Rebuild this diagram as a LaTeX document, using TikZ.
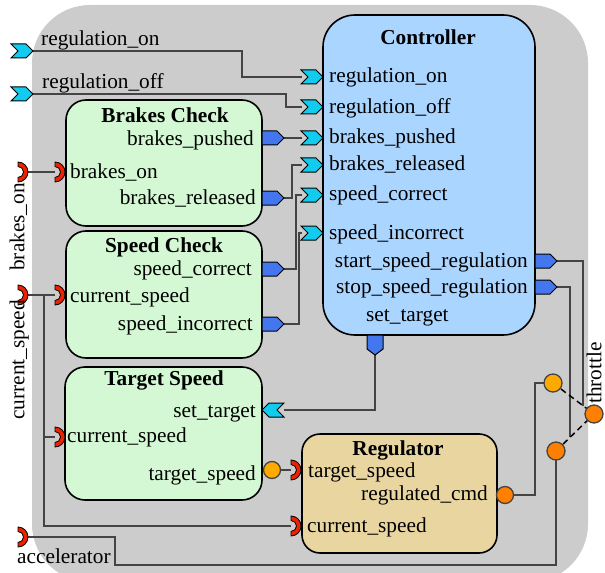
\documentclass[tikz,border=0pt]{standalone}
\usepackage{fontspec}
\setmainfont{Liberation Serif}
\usetikzlibrary{calc}
\definecolor{bgc}{HTML}{CCCCCC}
\definecolor{ctrlc}{HTML}{AAD5FF}
\definecolor{grnc}{HTML}{D4F8D4}
\definecolor{tanc}{HTML}{E8D5A0}
\definecolor{cyc}{HTML}{11CCEE}
\definecolor{bluc}{HTML}{4477EE}
\definecolor{redc}{HTML}{EE2200}
\definecolor{orl}{HTML}{FFAA00}
\definecolor{ord}{HTML}{FF7F00}
\definecolor{wirec}{HTML}{444444}
\newcommand\fsz{\fontsize{21.3bp}{25bp}\selectfont}
\tikzset{
 wire/.style={draw=wirec, line width=1.5bp},
 dashwire/.style={draw=black, line width=1.5bp, dash pattern=on 6bp off 4bp},
 block/.style={draw=black, line width=1.6bp, inner sep=0},
 rlbl/.style={font=\fsz, inner sep=0},
 lbl/.style={font=\fsz, inner sep=0, yshift=-3bp},
 ttl/.style={font=\fsz\bfseries, inner sep=0, anchor=mid, yshift=-3bp},
 cyport/.style={fill=cyc, draw=black, line width=1bp},
 blport/.style={fill=bluc, draw=black, line width=1bp},
 rdport/.style={fill=redc, draw=black, line width=0.8bp},
 orport/.style={draw=wirec, line width=1.3bp},
}
\newcommand\chevR[2]{\filldraw[cyport] ({#1-22},{#2-7}) -- ({#1-7},{#2-7}) -- (#1,#2) -- ({#1-7},{#2+7}) -- ({#1-22},{#2+7}) -- ({#1-15},#2) -- cycle;}
\newcommand\chevL[2]{\filldraw[cyport] ({#1+22},{#2-7}) -- ({#1+7},{#2-7}) -- (#1,#2) -- ({#1+7},{#2+7}) -- ({#1+22},{#2+7}) -- ({#1+15},#2) -- cycle;}
\newcommand\pentR[2]{\filldraw[blport] (#1,{#2-7}) -- ({#1+15},{#2-7}) -- ({#1+22},#2) -- ({#1+15},{#2+7}) -- (#1,{#2+7}) -- cycle;}
\newcommand\pentD[2]{\filldraw[blport] ({#1-8},#2) -- ({#1+8},#2) -- ({#1+8},{#2+14}) -- (#1,{#2+20}) -- ({#1-8},{#2+14}) -- cycle;}
\newcommand\sockR[2]{\filldraw[rdport] (#1,{#2-10}) arc[start angle=-90,end angle=90,radius=10] -- (#1,{#2+5.5}) arc[start angle=90,end angle=-90,radius=5.5] -- cycle;}
\begin{document}
\begin{tikzpicture}[x=1bp,y=-1bp]
\useasboundingbox (0,0) rectangle (605,573);
\fill[bgc, rounded corners=58bp] (32,5) rectangle (588,582);

% port coordinates
\coordinate (ron-x) at (33,51);
\coordinate (roff-x) at (33,94);
\coordinate (c-ron) at (302,77);
\coordinate (c-roff) at (302,107);
\coordinate (c-bp) at (302,138);
\coordinate (c-br) at (302,165);
\coordinate (c-sc) at (302,195);
\coordinate (c-si) at (302,233);
\coordinate (c-start) at (557,261);
\coordinate (c-stop) at (557,287);
\coordinate (c-set) at (375,355);
\coordinate (bc-bp) at (284,138);
\coordinate (bc-br) at (284,198);
\coordinate (bc-on) at (55,172);
\coordinate (bon-x) at (28,172);
\coordinate (sc-sc) at (284,269);
\coordinate (sc-si) at (284,324);
\coordinate (sc-cs) at (55,295);
\coordinate (cs-x) at (28,295);
\coordinate (ts-set) at (284,410);
\coordinate (ts-cs) at (55,437);
\coordinate (ts-ts) at (272,470);
\coordinate (reg-ts) at (291,470);
\coordinate (reg-cs) at (291,526);
\coordinate (reg-cmd) at (505,495);
\coordinate (acc-x) at (28,537);
\coordinate (o1) at (553,383);
\coordinate (o2) at (556,451);
\coordinate (thr) at (594,414);

% wires
\draw[wire] (ron-x) -- (242,51) |- (c-ron);
\draw[wire] (roff-x) -- (286,94) |- (c-roff);
\draw[wire] (bc-bp) -- (c-bp);
\draw[wire] (bc-br) -- (292,198) |- (c-br);
\draw[wire] (sc-sc) -- (296,269) |- (c-sc);
\draw[wire] (sc-si) -- (299,324) |- (c-si);
\draw[wire] (c-set) |- (ts-set);
\draw[wire] (bon-x) -- (bc-on);
\draw[wire] (cs-x) -- (sc-cs);
\draw[wire] (44,295) |- (reg-cs);
\draw[wire] (44,437) -- (ts-cs);
\draw[wire] (ts-ts) -- (reg-ts);
\draw[wire] (reg-cmd) -- (535,495) |- (o1);
\draw[wire] (acc-x) -| (115,565) -| (o2);
\draw[wire] (c-start) -| ($(o1)!30/41!(thr)$);
\draw[wire] (c-stop) -| ($(o2)!14/38!(thr)$);
\draw[dashwire] (o1) -- (thr);
\draw[dashwire] (o2) -- (thr);

% blocks
\node[block, fill=ctrlc, rounded corners=32bp, minimum width=212bp, minimum height=320bp] (ctrl) at (429,175) {};
\node[block, fill=grnc, rounded corners=20bp, minimum width=196bp, minimum height=126bp] (bc) at (164,163) {};
\node[block, fill=grnc, rounded corners=20bp, minimum width=196bp, minimum height=127bp] (sc) at (164,294.5) {};
\node[block, fill=grnc, rounded corners=20bp, minimum width=197bp, minimum height=133bp] (ts) at (163.5,433.5) {};
\node[block, fill=tanc, rounded corners=18bp, minimum width=195bp, minimum height=119bp] (reg) at (399.5,493.5) {};

% ports
\chevR{33}{51}
\chevR{33}{94}
\chevR{323}{77}
\chevR{323}{107}
\chevR{323}{138}
\chevR{323}{165}
\chevR{323}{195}
\chevR{323}{233}
\pentR{535}{261}
\pentR{535}{287}
\pentD{375}{335}
\pentR{262}{138}
\pentR{262}{198}
\pentR{262}{269}
\pentR{262}{324}
\chevL{262}{410}
\sockR{18}{172}
\sockR{18}{295}
\sockR{18}{537}
\sockR{55}{172}
\sockR{55}{295}
\sockR{55}{437}
\sockR{291}{470}
\sockR{291}{526}
\filldraw[orport, fill=orl] (ts-ts) circle[radius=8.5];
\filldraw[orport, fill=ord] (reg-cmd) circle[radius=8.5];
\filldraw[orport, fill=orl] (o1) circle[radius=9];
\filldraw[orport, fill=ord] (o2) circle[radius=9];
\filldraw[orport, fill=ord] (thr) circle[radius=9];

% titles
\node[ttl] (ctrl-t) at (428,39) {Controller};
\node[ttl] (bc-t) at (165,117) {Brakes Check};
\node[ttl] (sc-t) at (164,247) {Speed Check};
\node[ttl] (ts-t) at (164,380) {Target Speed};
\node[ttl] (reg-t) at (398,450) {Regulator};

% controller labels
\node[lbl, anchor=mid west] (l1) at (329,77) {regulation\_on};
\node[lbl, anchor=mid west] (l2) at (329,108) {regulation\_off};
\node[lbl, anchor=mid west] (l3) at (329,138) {brakes\_pushed};
\node[lbl, anchor=mid west] (l4) at (329,165) {brakes\_released};
\node[lbl, anchor=mid west] (l5) at (329,195) {speed\_correct};
\node[lbl, anchor=mid west] (l6) at (329,234) {speed\_incorrect};
\node[lbl, anchor=mid east] (l7) at (528,262) {start\_speed\_regulation};
\node[lbl, anchor=mid east] (l8) at (528,288) {stop\_speed\_regulation};
\node[lbl, anchor=mid west] (l9) at (366,316) {set\_target};
% brakes check
\node[lbl, anchor=mid east] (l10) at (254,140) {brakes\_pushed};
\node[lbl, anchor=mid west] (l11) at (70,173) {brakes\_on};
\node[lbl, anchor=mid east] (l12) at (256,199) {brakes\_released};
% speed check
\node[lbl, anchor=mid east] (l13) at (252,270) {speed\_correct};
\node[lbl, anchor=mid west] (l14) at (70,297) {current\_speed};
\node[lbl, anchor=mid east] (l15) at (253,325) {speed\_incorrect};
% target speed
\node[lbl, anchor=mid east] (l16) at (256,412) {set\_target};
\node[lbl, anchor=mid west] (l17) at (67,437) {current\_speed};
\node[lbl, anchor=mid east] (l18) at (256,475) {target\_speed};
% regulator
\node[lbl, anchor=mid west] (l19) at (308,472) {target\_speed};
\node[lbl, anchor=mid east] (l20) at (488,495) {regulated\_cmd};
\node[lbl, anchor=mid west] (l21) at (307,527) {current\_speed};
% external
\node[lbl, anchor=mid west] (l22) at (41,40) {regulation\_on};
\node[lbl, anchor=mid west] (l23) at (42,83) {regulation\_off};
\node[lbl, anchor=mid west] (l24) at (17,558) {accelerator};
\node[rlbl, anchor=mid east, rotate=90] (l25) at (22,183) {brakes\_on};
\node[rlbl, anchor=mid east, rotate=90] (l26) at (22,300) {current\_speed};
\node[rlbl, anchor=mid east, rotate=90] (l27) at (599,342) {throttle};
\end{tikzpicture}
\end{document}
